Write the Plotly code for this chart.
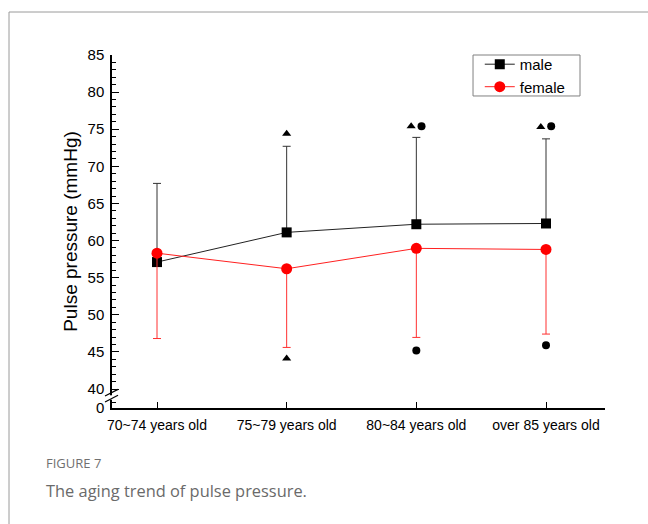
import plotly.graph_objects as go

# Age groups on the x axis
age_groups = ["70~74 years old", "75~79 years old", "80~84 years old", "over 85 years old"]

# Mean pulse pressure (mmHg) and SD shown as one-sided error bars
male_mean = [57.1, 61.1, 62.2, 62.3]
male_sd = [10.6, 11.6, 11.7, 11.4]
female_mean = [58.3, 56.2, 58.95, 58.8]
female_sd = [11.5, 10.6, 12.0, 11.4]

# Significance marks: (group index, side offset, y value)
tri_group = [1, 2, 3, 1]
tri_offset = [0.0, -0.04, -0.04, 0.0]
tri_y = [74.4, 75.4, 75.3, 44.1]
dot_group = [2, 3, 2, 3]
dot_offset = [0.04, 0.04, 0.0, 0.0]
dot_y = [75.4, 75.4, 45.2, 45.9]

# Broken y axis: the "0" label sits just below the 40 tick
y_zero_pos = 37.44
y_top = 85
major_vals = [y_zero_pos] + list(range(40, 86, 5))
major_text = ["0"] + [str(v) for v in range(40, 86, 5)]
minor_vals = [y_zero_pos + 0.75] + [v for v in range(41, 85) if v % 5 != 0]

FONT = "Liberation Sans, Arial, sans-serif"
x_idx = list(range(len(age_groups)))

fig = go.Figure()

fig.add_trace(go.Scatter(
    x=x_idx, y=male_mean, mode="lines+markers", name="male",
    line=dict(color="#222222", width=1),
    marker=dict(symbol="square", size=10, color="black"),
    error_y=dict(type="data", symmetric=False, array=male_sd,
                 arrayminus=[0] * len(male_sd), color="#333333",
                 thickness=1, width=4),
))
fig.add_trace(go.Scatter(
    x=x_idx, y=female_mean, mode="lines+markers", name="female",
    line=dict(color="#ff2020", width=1),
    marker=dict(symbol="circle", size=11, color="#ff0000"),
    error_y=dict(type="data", symmetric=False, array=[0] * len(female_sd),
                 arrayminus=female_sd, color="#ff3030",
                 thickness=1, width=4),
))
fig.add_trace(go.Scatter(
    x=[g + o for g, o in zip(tri_group, tri_offset)], y=tri_y,
    mode="markers", showlegend=False, hoverinfo="skip",
    marker=dict(symbol="triangle-up", size=8, color="black"),
))
fig.add_trace(go.Scatter(
    x=[g + o for g, o in zip(dot_group, dot_offset)], y=dot_y,
    mode="markers", showlegend=False, hoverinfo="skip",
    marker=dict(symbol="circle", size=8, color="black"),
))

shapes = []
# White gap in the y axis line plus two slashes marking the break
shapes.append(dict(type="rect", xref="paper", yref="y",
                   x0=-0.006, x1=0.006, y0=38.55, y1=39.15,
                   fillcolor="white", line=dict(width=0), layer="above"))
for y0, y1 in [(39.05, 39.95), (38.25, 39.15)]:
    shapes.append(dict(type="line", xref="paper", yref="y",
                       x0=-0.0142, x1=0.0122, y0=y0, y1=y1,
                       line=dict(color="black", width=1.2), layer="above"))
# Legend frame
shapes.append(dict(type="rect", xref="paper", yref="paper",
                   x0=0.7323, x1=0.9493, y0=1.0, y1=0.8839,
                   line=dict(color="#808080", width=1), fillcolor="rgba(0,0,0,0)"))
# Figure frame (left and top rule)
shapes.append(dict(type="line", xref="paper", yref="paper",
                   x0=-0.2089, x1=-0.2089, y0=1.1218, y1=-0.35,
                   line=dict(color="#9a9a9a", width=1)))
shapes.append(dict(type="line", xref="paper", yref="paper",
                   x0=-0.2089, x1=1.1, y0=1.1218, y1=1.1218,
                   line=dict(color="#9a9a9a", width=1)))

annotations = [
    dict(text="FIGURE 7", xref="paper", yref="paper", x=-0.1379, y=-0.155,
         xanchor="left", yanchor="middle", showarrow=False,
         font=dict(family="Open Sans, sans-serif", size=13, color="#707070")),
    dict(text="The aging trend of pulse pressure.", xref="paper", yref="paper",
         x=-0.1379, y=-0.233, xanchor="left", yanchor="middle", showarrow=False,
         font=dict(family="Open Sans, sans-serif", size=16.4, color="#6a6a6a")),
]

fig.update_layout(
    width=648, height=524,
    margin=dict(l=112, r=43, t=55, b=116),
    paper_bgcolor="white", plot_bgcolor="white",
    font=dict(family=FONT, size=14, color="black"),
    showlegend=True,
    legend=dict(x=0.746, y=1.02, xanchor="left", yanchor="top",
                borderwidth=0, bgcolor="rgba(0,0,0,0)",
                font=dict(family=FONT, size=15), tracegroupgap=0,
                itemwidth=30),
    shapes=shapes,
    annotations=annotations,
)

fig.update_xaxes(
    range=[-0.347, 3.455], tickmode="array", tickvals=x_idx, ticktext=age_groups,
    showline=True, linecolor="black", linewidth=1.5, showgrid=False, zeroline=False,
    ticks="inside", ticklen=6, tickcolor="black", tickwidth=1.2,
    tickfont=dict(family=FONT, size=14), ticklabelstandoff=3,
)
fig.update_yaxes(
    range=[y_zero_pos, y_top], tickmode="array", tickvals=major_vals, ticktext=major_text,
    showline=True, linecolor="black", linewidth=1.5, showgrid=False, zeroline=False,
    ticks="inside", ticklen=7, tickcolor="black", tickwidth=1.2,
    minor=dict(tickmode="array", tickvals=minor_vals, ticks="inside", ticklen=4,
               tickcolor="black", tickwidth=1, showgrid=False),
    tickfont=dict(family=FONT, size=15), ticklabelstandoff=3,
    title=dict(text="Pulse pressure (mmHg)", font=dict(family=FONT, size=19), standoff=5),
)

fig.write_html("out.html")
